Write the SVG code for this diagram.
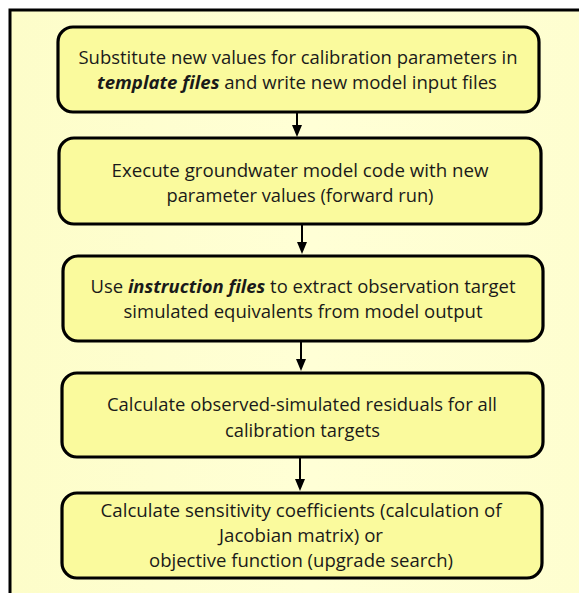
<svg xmlns="http://www.w3.org/2000/svg" width="579" height="593" viewBox="0 0 579 593">
  <defs>
    <linearGradient id="panelFill" x1="0" y1="0" x2="1" y2="0">
      <stop offset="0" stop-color="#FDFDC9"/>
      <stop offset="0.5" stop-color="#FFFFD6"/>
      <stop offset="1" stop-color="#FEFECF"/>
    </linearGradient>
  </defs>
  <style>
    .panel { fill: url(#panelFill); stroke: #000; stroke-width: 3; }
    .step { fill: #FAFA9D; stroke: #000; stroke-width: 3.2; }
    .label { font-family: "Open Sans", "Liberation Sans", sans-serif; font-size: 18px; fill: #1a1a1a; text-anchor: middle; }
    .em { font-weight: bold; font-style: italic; }
    .link { stroke: #000; stroke-width: 2; fill: none; }
    .head { fill: #000; stroke: none; }
  </style>

  <rect width="579" height="593" fill="#fff"/>
  <rect class="panel" x="10" y="10" width="600" height="620"/>

  <g id="step-substitute">
    <rect class="step" x="58" y="27" width="481" height="85" rx="15"/>
    <text class="label" x="298" y="64" textLength="439" lengthAdjust="spacingAndGlyphs">Substitute new values for calibration parameters in</text>
    <text class="label" x="297" y="89" textLength="400" lengthAdjust="spacingAndGlyphs"><tspan class="em">template files</tspan> and write new model input files</text>
  </g>

  <g id="step-execute">
    <rect class="step" x="59" y="138" width="482" height="86" rx="15"/>
    <text class="label" x="300" y="177" textLength="377" lengthAdjust="spacingAndGlyphs">Execute groundwater model code with new</text>
    <text class="label" x="300" y="202" textLength="267" lengthAdjust="spacingAndGlyphs">parameter values (forward run)</text>
  </g>

  <g id="step-extract">
    <rect class="step" x="63" y="256" width="480" height="85" rx="15"/>
    <text class="label" x="303" y="293" textLength="425" lengthAdjust="spacingAndGlyphs">Use <tspan class="em">instruction files</tspan> to extract observation target</text>
    <text class="label" x="303" y="318" textLength="359" lengthAdjust="spacingAndGlyphs">simulated equivalents from model output</text>
  </g>

  <g id="step-residuals">
    <rect class="step" x="62" y="373" width="481" height="84" rx="15"/>
    <text class="label" x="302" y="411" textLength="390" lengthAdjust="spacingAndGlyphs">Calculate observed-simulated residuals for all</text>
    <text class="label" x="302.5" y="437" textLength="155" lengthAdjust="spacingAndGlyphs">calibration targets</text>
  </g>

  <g id="step-sensitivity">
    <rect class="step" x="62" y="493" width="480" height="85" rx="15"/>
    <text class="label" x="301" y="517" textLength="401" lengthAdjust="spacingAndGlyphs">Calculate sensitivity coefficients (calculation of</text>
    <text class="label" x="301" y="542" textLength="164" lengthAdjust="spacingAndGlyphs">Jacobian matrix) or</text>
    <text class="label" x="301" y="567" textLength="304" lengthAdjust="spacingAndGlyphs">objective function (upgrade search)</text>
  </g>

  <g id="connectors">
    <line class="link" x1="297" y1="113" x2="297" y2="126"/>
    <path class="head" d="M292,125 L302,125 L297,137 Z"/>
    <line class="link" x1="302" y1="225" x2="302" y2="243"/>
    <path class="head" d="M297,242 L307,242 L302,254 Z"/>
    <line class="link" x1="301" y1="342" x2="301" y2="360"/>
    <path class="head" d="M296,359 L306,359 L301,371 Z"/>
    <line class="link" x1="300" y1="458" x2="300" y2="480"/>
    <path class="head" d="M295,479 L305,479 L300,491 Z"/>
  </g>
</svg>
